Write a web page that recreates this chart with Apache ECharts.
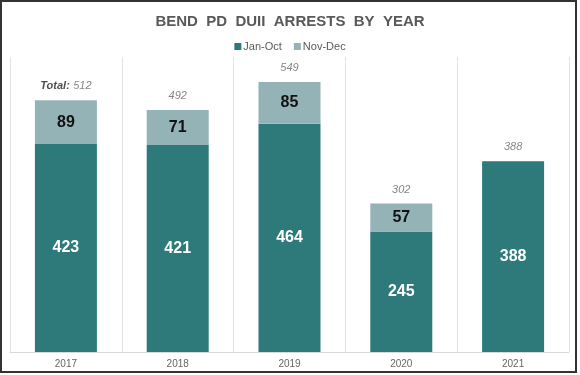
<!DOCTYPE html>
<html>
<head>
<meta charset="utf-8">
<script src="https://cdn.jsdelivr.net/npm/echarts@6/dist/echarts.min.js"></script>
<style>
  html, body { margin: 0; padding: 0; background: #fff; }
  #main { width: 580px; height: 375px; }
</style>
</head>
<body>
<div id="main"></div>
<script>
const years = ['2017', '2018', '2019', '2020', '2021']
const janOct = [423, 421, 464, 245, 388]
const novDec = [89, 71, 85, 57, null]
const totals = [512, 492, 549, 302, 388]

const myChart = echarts.init(document.getElementById('main'))
myChart.setOption({
  backgroundColor: '#fff',
  animation: false,
  textStyle: { fontFamily: 'Liberation Sans, Arial, sans-serif' },
  title: {
    text: 'BEND  PD  DUII  ARRESTS  BY  YEAR',
    left: 'center',
    top: 9,
    textStyle: { fontSize: 15, fontWeight: 'bold', color: '#595959' }
  },
  legend: {
    top: 36,
    left: 'center',
    icon: 'rect',
    itemWidth: 7,
    itemHeight: 7,
    itemGap: 12,
    textStyle: { fontSize: 11, color: '#595959', padding: [0, 0, 0, -3] },
    data: ['Jan-Oct', 'Nov-Dec']
  },
  grid: { left: 10, right: 11, top: 57, bottom: 23 },
  xAxis: {
    type: 'category',
    data: years,
    axisLine: { lineStyle: { color: '#d9d9d9' } },
    axisTick: { show: false },
    splitLine: { show: true, interval: 0, lineStyle: { color: '#e3e3e3' } },
    axisLabel: { color: '#666', fontSize: 10, margin: 7 }
  },
  yAxis: { type: 'value', min: 0, max: 600, show: false, splitLine: { show: false } },
  series: [
    {
      name: 'Jan-Oct',
      type: 'bar',
      stack: 'all',
      barWidth: 62,
      data: janOct,
      itemStyle: { color: '#2e7a7b' },
      label: { show: true, position: 'inside', color: '#fff', fontSize: 16, fontWeight: 'bold' }
    },
    {
      name: 'Nov-Dec',
      type: 'bar',
      stack: 'all',
      barWidth: 62,
      data: novDec,
      itemStyle: { color: '#93b3b6' },
      label: { show: true, position: 'inside', color: '#111', fontSize: 16, fontWeight: 'bold' }
    },
    {
      name: 'Total',
      type: 'scatter',
      symbolSize: 1,
      itemStyle: { color: 'rgba(0,0,0,0)' },
      data: totals,
      silent: true,
      label: {
        show: true,
        position: 'top',
        distance: 8,
        formatter(p) {
          return p.dataIndex === 0 ? '{b|Total:} {v|' + p.value + '}' : '{v|' + p.value + '}'
        },
        rich: {
          b: { fontSize: 11, fontStyle: 'italic', fontWeight: 'bold', color: '#222' },
          v: { fontSize: 11, fontStyle: 'italic', color: '#666' }
        }
      }
    }
  ],
  graphic: [
    {
      type: 'rect',
      shape: { x: 1, y: 1, width: 575, height: 371 },
      style: { fill: null, stroke: '#333', lineWidth: 2 },
      silent: true
    }
  ]
})
</script>
</body>
</html>
